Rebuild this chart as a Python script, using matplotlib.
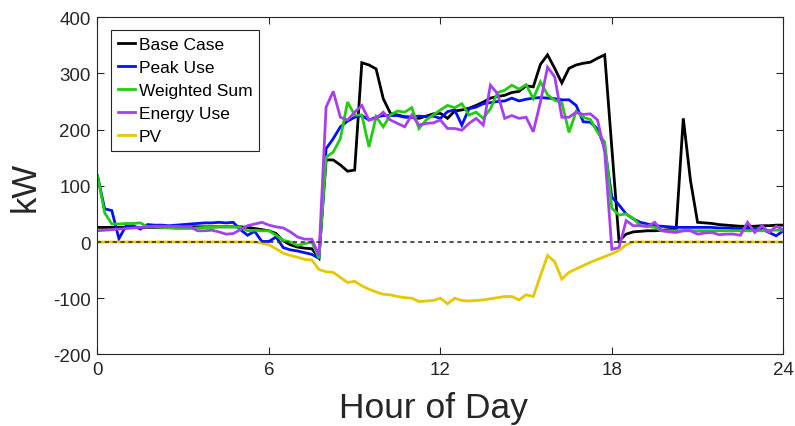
import numpy as np
import matplotlib
matplotlib.use('Agg')
import matplotlib.pyplot as plt

# ---------------- data (15-minute resolution, 0..24 h) ----------------
hours = np.linspace(0, 24, 97)

base_case = [26, 26, 26, 26, 26, 26, 26, 26, 26, 26, 26, 26, 27, 27, 27, 27,
             27, 27, 27, 27, 27, 26, 24, 22, 20, 15, 2, -5, -9, -11, -12, -28,
             146, 146, 137, 126, 128, 319, 315, 308, 255, 229, 226, 223, 222, 220, 224, 228,
             229, 220, 233, 235, 238, 243, 249, 256, 259, 261, 266, 268, 278, 276, 316, 333,
             309, 283, 309, 315, 318, 320, 327, 333, 167, 2, 14, 18, 19, 20, 20, 21,
             22, 23, 220, 110, 35, 34, 33, 31, 30, 29, 28, 28, 28, 29, 29, 30,
             30]

peak_use = [118, 59, 56, 6, 29, 29, 23, 31, 30, 30, 29, 30, 31, 32, 33, 34,
            34, 35, 34, 35, 22, 12, 19, 1, 1, 9, -10, -14, -16, -19, -22, -29,
            166, 184, 205, 215, 222, 225, 217, 222, 225, 225, 225, 222, 222, 224, 223, 224,
            220, 232, 235, 208, 237, 240, 246, 248, 250, 251, 256, 251, 254, 256, 257, 256,
            255, 253, 253, 243, 214, 213, 201, 168, 80, 66, 50, 41, 35, 32, 29, 28,
            27, 26, 26, 26, 26, 26, 26, 25, 25, 24, 24, 24, 24, 23, 17, 11,
            20]

weighted_sum = [118, 52, 32, 32, 33, 33, 34, 27, 27, 26, 25, 24, 24, 24, 25, 26,
                26, 27, 27, 27, 26, 20, 21, 20, 20, 12, 3, 0, -6, -3, 0, -29,
                151, 160, 184, 249, 226, 226, 169, 223, 205, 226, 233, 231, 239, 202, 217, 226,
                235, 243, 239, 246, 226, 231, 220, 237, 266, 270, 279, 272, 280, 255, 285, 262,
                252, 248, 195, 232, 222, 218, 195, 178, 60, 48, 50, 42, 29, 28, 26, 20,
                20, 20, 20, 20, 20, 20, 20, 20, 20, 20, 20, 20, 20, 20, 21, 21,
                21]

energy_use = [20, 21, 22, 23, 24, 25, 26, 27, 28, 28, 28, 28, 27, 27, 20, 20,
              21, 18, 14, 15, 22, 29, 32, 35, 30, 27, 25, 18, 9, 5, 5, -24,
              240, 268, 222, 217, 231, 243, 217, 220, 231, 217, 211, 205, 226, 208, 211, 212,
              217, 202, 202, 199, 211, 220, 208, 279, 264, 220, 225, 220, 222, 196, 249, 311,
              294, 222, 222, 231, 227, 228, 217, 160, -13, -10, 38, 29, 29, 28, 35, 20,
              18, 17, 20, 20, 14, 16, 17, 13, 14, 14, 12, 35, 17, 29, 17, 28,
              22]

pv = [0, 0, 0, 0, 0, 0, 0, 0, 0, 0, 0, 0, 0, 0, 0, 0,
      0, 0, 0, 0, 0, 0, 0, -2, -5, -12, -20, -24, -27, -31, -32, -49,
      -53, -54, -63, -72, -70, -78, -84, -89, -93, -94, -97, -99, -100, -106, -105, -104,
      -100, -110, -100, -104, -105, -104, -103, -101, -99, -97, -97, -103, -94, -97, -60, -24,
      -35, -66, -54, -48, -42, -36, -31, -26, -21, -15, -5, 0, 0, 0, 0, 0,
      0, 0, 0, 0, 0, 0, 0, 0, 0, 0, 0, 0, 0, 0, 0, 0,
      0]

series_names = ['Base Case', 'Peak Use', 'Weighted Sum', 'Energy Use', 'PV']
series_colors = ['#000000', '#0010ff', '#22cc11', '#a63ff0', '#e6c800']
reference_level = 0
x_ticks = [0, 6, 12, 18, 24]
y_ticks = [-200, -100, 0, 100, 200, 300, 400]

# ---------------- figure ----------------
plt.rcParams['font.family'] = ['Liberation Sans', 'DejaVu Sans']
plt.rcParams['axes.unicode_minus'] = False
text_color = '#262626'

fig = plt.figure(figsize=(7.95, 4.27), dpi=100)
ax = fig.add_axes([0.12264, 0.16768, 0.86264, 0.78970])

for vals, name, col in zip([base_case, peak_use, weighted_sum, energy_use, pv],
                           series_names, series_colors):
    ax.plot(hours, vals, color=col, lw=2.0, label=name, solid_joinstyle='miter')

ax.axhline(reference_level, color='#333333', lw=1.2, linestyle=(0, (2.5, 2.2)), zorder=5)

ax.set_xlim(0, 24)
ax.set_ylim(-200, 400)
ax.set_xticks(x_ticks)
ax.set_yticks(y_ticks)
ax.tick_params(direction='in', top=True, right=True, length=5, width=0.8,
               labelsize=13.5, color=text_color, labelcolor=text_color, pad=5)
for sp in ax.spines.values():
    sp.set_color(text_color)
    sp.set_linewidth(0.8)

ax.set_xlabel('Hour of Day', fontsize=25.5, color=text_color)
ax.set_ylabel('kW', fontsize=25, color=text_color)
ax.xaxis.set_label_coords(0.49, -0.108)
ax.yaxis.set_label_coords(-0.082, 0.5)

leg = ax.legend(loc='upper left', bbox_to_anchor=(0.0197, 0.963), borderaxespad=0,
                fontsize=12.5, handlelength=1.0, handletextpad=0.2, labelspacing=0.45,
                borderpad=0.4, fancybox=False, framealpha=1, edgecolor=text_color)
leg.get_frame().set_linewidth(0.8)

fig.savefig('out.png', dpi=100)
